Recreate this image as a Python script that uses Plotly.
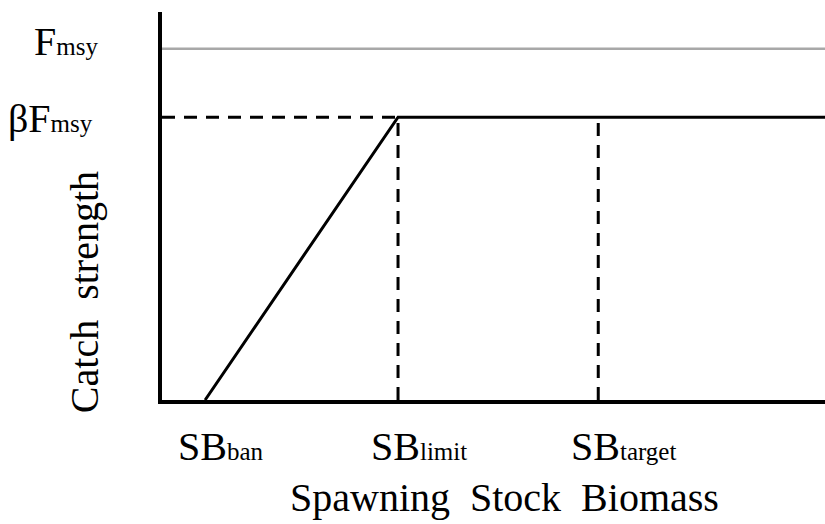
import plotly.graph_objects as go

# Reference points (x: spawning stock biomass, y: catch strength)
sb_names = ["ban", "limit", "target"]
sb_values = [0.65, 3.56, 6.58]
x_max = 10.0
f_names = ["F<span style='font-size:25px'>msy</span>",
           "βF<span style='font-size:25px'>msy</span>"]
f_msy = 0.905
beta_f_msy = 0.729

SERIF = "Liberation Serif, Times New Roman, serif"
DASH = "13px,9px"

sb_ban, sb_limit, sb_target = sb_values

fig = go.Figure()

# Fmsy reference line (gray)
fig.add_trace(go.Scatter(x=[0, x_max], y=[f_msy, f_msy], mode="lines",
                         line=dict(color="#a8a8a8", width=2.5), hoverinfo="skip"))
# beta*Fmsy dashed horizontal up to SBlimit
fig.add_trace(go.Scatter(x=[0, sb_limit], y=[beta_f_msy, beta_f_msy], mode="lines",
                         line=dict(color="black", width=3, dash=DASH), hoverinfo="skip"))
# dashed verticals at SBlimit and SBtarget
for xv in (sb_limit, sb_target):
    fig.add_trace(go.Scatter(x=[xv, xv], y=[0, beta_f_msy], mode="lines",
                             line=dict(color="black", width=3, dash=DASH), hoverinfo="skip"))
# harvest control rule
fig.add_trace(go.Scatter(x=[sb_ban, sb_limit, x_max], y=[0, beta_f_msy, beta_f_msy],
                         mode="lines", line=dict(color="black", width=3), hoverinfo="skip"))

annotations = []
# x labels
for name, xv in zip(sb_names, sb_values):
    annotations.append(dict(x=xv, y=0, xref="x", yref="paper", xanchor="left", yanchor="middle",
                            xshift=-29, yshift=-46, showarrow=False,
                            text=f"SB<span style='font-size:25px'>{name}</span>",
                            font=dict(family=SERIF, size=40, color="black")))
# y labels
for txt, yv, xs, ys in zip(f_names, [f_msy, beta_f_msy], [-62, -67], [7, -1]):
    annotations.append(dict(x=0, y=yv, xref="paper", yref="y", xanchor="right", yanchor="middle",
                            xshift=xs, yshift=ys, showarrow=False, text=txt,
                            font=dict(family=SERIF, size=40, color="black")))
# axis titles
annotations.append(dict(x=0.516, y=0, xref="paper", yref="paper", xanchor="center", yanchor="middle",
                        yshift=-97, showarrow=False, text="Spawning  Stock  Biomass",
                        font=dict(family=SERIF, size=40, color="black")))
annotations.append(dict(x=0, y=0.278, xref="paper", yref="paper", xanchor="center", yanchor="middle",
                        xshift=-78, showarrow=False, text="Catch  strength", textangle=-90,
                        font=dict(family=SERIF, size=40, color="black")))

fig.update_layout(
    width=825, height=524,
    margin=dict(l=162, r=0, t=12, b=124),
    paper_bgcolor="white", plot_bgcolor="white",
    showlegend=False,
    annotations=annotations,
    xaxis=dict(range=[0, x_max], showline=True, linecolor="black", linewidth=4,
               showgrid=False, zeroline=False, showticklabels=False, ticks=""),
    yaxis=dict(range=[0, 1], showline=True, linecolor="black", linewidth=4,
               showgrid=False, zeroline=False, showticklabels=False, ticks=""),
)

# remove the default 8px body margin so the figure fills the 825x524 window exactly
fig.write_html("out.html",
               config={"displayModeBar": False},
               post_script="document.body.style.margin='0';document.body.style.overflow='hidden';")
